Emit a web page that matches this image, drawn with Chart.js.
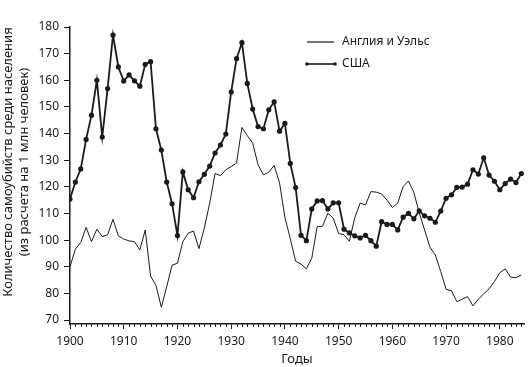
<!DOCTYPE html>
<html>
<head>
<meta charset="utf-8">
<script src="https://cdn.jsdelivr.net/npm/chart.js@4/dist/chart.umd.min.js"></script>
<style>
  html, body { margin: 0; padding: 0; background: #fff; }
  #wrap { width: 531px; height: 367px; }
</style>
</head>
<body>
<div id="wrap"><canvas id="chart" width="531" height="367"></canvas></div>
<script>
// years 1900..1984
const years = [];
for (let y = 1900; y <= 1984; y++) years.push(y);

// rate per 1 million
const englandWales = [
  90, 96.6, 99.1, 104.8, 99.4, 104.1, 101.3, 102, 107.8, 101.6,
  100.4, 99.7, 99.4, 96.3, 103.8, 86.5, 83, 74.8, 82.5, 90.6,
  91.3, 99.4, 102.6, 103.4, 96.8, 104.5, 113.9, 125, 124.2, 126.4,
  127.6, 128.9, 142.3, 139.2, 136.4, 128.3, 124.5, 125.5, 128, 121.5,
  108.5, 100.5, 92, 91, 89.2, 93.2, 105, 105.2, 110.1, 108.2,
  102.5, 102, 99.6, 108.4, 113.9, 113.2, 118.2, 118, 117.3, 115,
  112.2, 113.9, 120.1, 122.2, 117.9, 110.2, 103.8, 97.3, 94.4, 88.2,
  81.5, 81, 76.9, 77.8, 78.8, 75.3, 77.8, 79.8, 81.7, 84.4,
  87.8, 89.2, 86.1, 85.9, 86.9
];
const usa = [
  115.4, 121.8, 126.7, 137.8, 146.9, 160, 138.7, 156.9, 177, 165,
  159.7, 162, 159.8, 157.8, 166, 167, 141.8, 133.8, 121.8, 113.6,
  101.7, 125.6, 118.9, 115.9, 121.9, 124.7, 127.8, 132.7, 135.7, 139.8,
  155.6, 168.1, 174.1, 158.8, 149.2, 142.6, 141.8, 148.9, 151.9, 140.9,
  143.8, 128.8, 119.7, 101.8, 99.8, 111.7, 114.7, 114.8, 111.7, 114,
  114, 104.1, 102.7, 101.6, 100.8, 101.8, 99.8, 97.7, 106.9, 105.9,
  105.9, 103.8, 108.6, 110, 108, 111, 109.1, 108.2, 106.7, 110.9,
  115.7, 117, 119.8, 119.9, 121, 126.4, 124.8, 130.9, 124.4, 122.1,
  118.9, 121.2, 122.9, 121.6, 125
];

const seriesLabels = ["Англия и Уэльс", "США"];
const yTicks = [70, 80, 90, 100, 110, 120, 130, 140, 150, 160, 170, 180];
const xTicks = [1900, 1910, 1920, 1930, 1940, 1950, 1960, 1970, 1980];
const yTitle = ["Количество самоубийств среди населения", "(из расчета на 1 млн человек)"];
const xTitle = "Годы";

const FONT = "'Noto Sans', sans-serif";
const INK = "#1a1a1a";

// minor ticks, legend and y title
const extras = {
  id: "extras",
  afterDraw(chart) {
    const ctx = chart.ctx;
    const x = chart.scales.x;
    ctx.save();
    ctx.strokeStyle = INK;
    ctx.lineWidth = 1;
    ctx.beginPath();
    years.forEach(yr => {
      if (yr % 10 === 0) return;
      const px = Math.round(x.getPixelForValue(yr)) + 0.5;
      ctx.moveTo(px, x.top);
      ctx.lineTo(px, x.top + 3);
    });
    ctx.stroke();

    // legend
    ctx.font = "12px " + FONT;
    ctx.fillStyle = INK;
    ctx.textBaseline = "middle";
    ctx.lineWidth = 1.2;
    ctx.beginPath();
    ctx.moveTo(307, 42); ctx.lineTo(334, 42);
    ctx.stroke();
    ctx.fillText(chart.data.datasets[0].label, 342, 42);
    ctx.lineWidth = 1.6;
    ctx.beginPath();
    ctx.moveTo(307, 64); ctx.lineTo(335, 64);
    ctx.stroke();
    [307, 335].forEach(px => {
      ctx.beginPath();
      ctx.arc(px, 64, 1.8, 0, Math.PI * 2);
      ctx.fill();
    });
    ctx.fillText(chart.data.datasets[1].label, 342, 64);

    // y title
    ctx.font = "13px " + FONT;
    ctx.textAlign = "center";
    ctx.translate(0, 162);
    ctx.rotate(-Math.PI / 2);
    ctx.fillText(yTitle[0], 0, 8);
    ctx.fillText(yTitle[1], 0, 24);
    ctx.restore();
  }
};

const ctx = document.getElementById("chart").getContext("2d");
new Chart(ctx, {
  type: "line",
  data: {
    datasets: [
      {
        label: seriesLabels[0],
        data: years.map((yr, i) => ({ x: yr, y: englandWales[i] })),
        borderColor: INK,
        borderWidth: 1,
        pointRadius: 0,
        tension: 0
      },
      {
        label: seriesLabels[1],
        data: years.map((yr, i) => ({ x: yr, y: usa[i] })),
        borderColor: INK,
        backgroundColor: INK,
        borderWidth: 1.8,
        pointRadius: 2.6,
        pointBackgroundColor: INK,
        pointBorderWidth: 0,
        tension: 0
      }
    ]
  },
  options: {
    responsive: false,
    animation: false,
    devicePixelRatio: 1,
    layout: { padding: { top: 27, right: 7, left: 0, bottom: 0 } },
    plugins: {
      legend: { display: false },
      tooltip: { enabled: false }
    },
    scales: {
      x: {
        type: "linear",
        min: 1900,
        max: 1984.5,
        afterBuildTicks: s => { s.ticks = xTicks.map(v => ({ value: v })); },
        afterFit: s => { s.height = 43; },
        grid: { drawOnChartArea: false, tickLength: 5, tickColor: INK, tickWidth: 1 },
        border: { display: true, color: INK, width: 1.5 },
        ticks: {
          color: INK,
          font: { family: FONT, size: 12 },
          padding: 5,
          maxRotation: 0,
          callback: v => String(v)
        },
        title: {
          display: true,
          text: xTitle,
          color: INK,
          font: { family: FONT, size: 13 },
          padding: { top: 2, bottom: 0 }
        }
      },
      y: {
        min: 68.5,
        max: 180,
        afterBuildTicks: s => { s.ticks = yTicks.map(v => ({ value: v })); },
        afterFit: s => { s.width = 70; },
        grid: { drawOnChartArea: false, tickLength: 6, tickColor: INK, tickWidth: 1 },
        border: { display: true, color: INK, width: 1.5 },
        ticks: {
          color: INK,
          font: { family: FONT, size: 12 },
          padding: 5
        }
      }
    }
  },
  plugins: [extras]
});
</script>
</body>
</html>
